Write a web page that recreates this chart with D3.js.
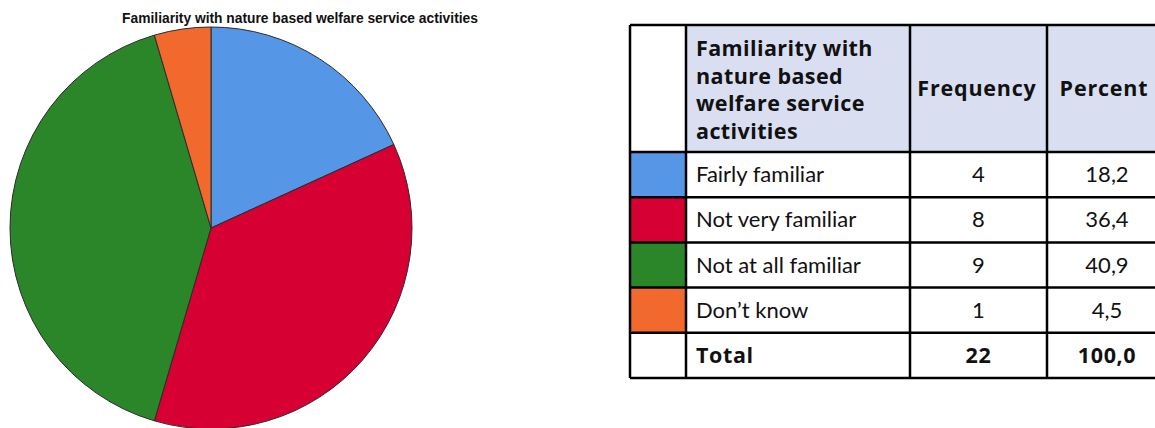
<!DOCTYPE html>
<html>
<head>
<meta charset="utf-8">
<script src="https://cdn.jsdelivr.net/npm/d3@7/dist/d3.min.js"></script>
<style>
  html, body { margin: 0; padding: 0; background: #fff; }
  svg { display: block; }
</style>
</head>
<body>
<svg id="chart" width="1155" height="428"></svg>
<script>
// Survey responses: familiarity with nature based welfare service activities
const categories = ["Fairly familiar", "Not very familiar", "Not at all familiar", "Don\u2019t know"];
const frequencies = [4, 8, 9, 1];
const percentLabels = ["18,2", "36,4", "40,9", "4,5"];
const totalFrequency = "22";
const totalPercent = "100,0";
const colors = ["#5596e6", "#d60032", "#2a8629", "#f1692c"];
const headerLines = ["Familiarity with", "nature based", "welfare service", "activities"];
const columnHeads = ["Frequency", "Percent"];
const chartTitle = "Familiarity with nature based welfare service activities";

const svg = d3.select("#chart");

// ---- Pie chart ----
const cx = 211, cy = 228, radius = 201;

svg.append("text")
  .attr("x", 300).attr("y", 23)
  .attr("text-anchor", "middle")
  .attr("font-family", "Liberation Sans, Arial, sans-serif")
  .attr("font-weight", "bold")
  .attr("font-size", 13.8)
  .attr("fill", "#111")
  .text(chartTitle);

const pie = d3.pie().sort(null).value(d => d.value);
const arc = d3.arc().innerRadius(0).outerRadius(radius);
const slices = pie(categories.map((c, i) => ({ label: c, value: frequencies[i], color: colors[i] })));

svg.append("g")
  .attr("transform", `translate(${cx},${cy})`)
  .selectAll("path")
  .data(slices)
  .join("path")
  .attr("d", arc)
  .attr("fill", d => d.data.color)
  .attr("stroke", "#2b2b2b")
  .attr("stroke-width", 1);

// ---- Frequency table ----
const font = "Lato, 'Open Sans', sans-serif";
const boldFont = "'Open Sans', Lato, sans-serif";
const colX = [630, 686, 910, 1047, 1168];
const headTop = 25, headBottom = 152;
const rowH = 45.2;
const rowTops = d3.range(6).map(i => headBottom + i * rowH);
const tableBottom = headBottom + 5 * rowH;

const table = svg.append("g");

// header shading
table.append("rect")
  .attr("x", colX[1]).attr("y", headTop)
  .attr("width", colX[4] - colX[1]).attr("height", headBottom - headTop)
  .attr("fill", "#d9dff1");

// colour swatches
table.selectAll("rect.swatch")
  .data(colors)
  .join("rect")
  .attr("class", "swatch")
  .attr("x", colX[0]).attr("y", (d, i) => rowTops[i])
  .attr("width", colX[1] - colX[0]).attr("height", rowH)
  .attr("fill", d => d);

// header text
const headText = table.append("text")
  .attr("font-family", boldFont).attr("font-weight", "bold")
  .attr("font-size", 21.5).attr("letter-spacing", 0.4).attr("fill", "#111");
headerLines.forEach((line, i) => {
  headText.append("tspan").attr("x", 696).attr("y", 56 + i * 27.7).text(line);
});

columnHeads.forEach((h, i) => {
  table.append("text")
    .attr("x", i === 0 ? 977 : 1104)
    .attr("y", 96)
    .attr("text-anchor", "middle")
    .attr("font-family", boldFont).attr("font-weight", "bold")
    .attr("font-size", 21.5).attr("letter-spacing", 0.8).attr("fill", "#111")
    .text(h);
});

// body rows
const rows = categories.map((c, i) => ({ label: c, freq: String(frequencies[i]), pct: percentLabels[i], bold: false }));
rows.push({ label: "Total", freq: totalFrequency, pct: totalPercent, bold: true });

rows.forEach((r, i) => {
  const baseY = rowTops[i] + rowH / 2 + 7.5;
  const g = table.append("g")
    .attr("font-family", r.bold ? boldFont : font)
    .attr("font-size", r.bold ? 21.5 : 22)
    .attr("letter-spacing", r.bold ? 0.6 : 0)
    .attr("font-weight", r.bold ? "bold" : "normal")
    .attr("fill", "#111");
  g.append("text").attr("x", 696).attr("y", baseY).text(r.label);
  g.append("text").attr("x", (colX[2] + colX[3]) / 2).attr("y", baseY)
    .attr("text-anchor", "middle").text(r.freq);
  g.append("text").attr("x", 1107).attr("y", baseY)
    .attr("text-anchor", "middle").text(r.pct);
});

// grid lines
const lineStyle = sel => sel.attr("stroke", "#000").attr("stroke-width", 2.5);
[headTop, ...rowTops].forEach(y => {
  table.append("line").attr("x1", colX[0]).attr("x2", colX[4]).attr("y1", y).attr("y2", y).call(lineStyle);
});
colX.forEach(x => {
  table.append("line").attr("x1", x).attr("x2", x).attr("y1", headTop).attr("y2", tableBottom).call(lineStyle);
});
</script>
</body>
</html>
